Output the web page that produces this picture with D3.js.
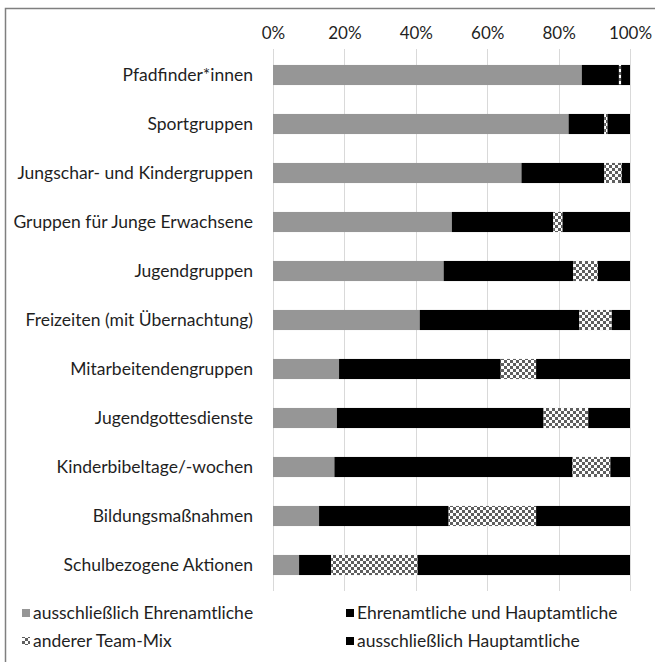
<!DOCTYPE html>
<html><head><meta charset="utf-8">
<script src="https://cdn.jsdelivr.net/npm/d3@7"></script>
<style>body{margin:0;background:#fff}svg{display:block}text{font-family:Lato,"Noto Sans",sans-serif}</style>
</head><body>
<svg id="c" width="655" height="662"></svg>
<script>
const categories = ["Pfadfinder*innen","Sportgruppen","Jungschar- und Kindergruppen","Gruppen für Junge Erwachsene","Jugendgruppen","Freizeiten (mit Übernachtung)","Mitarbeitendengruppen","Jugendgottesdienste","Kinderbibeltage/-wochen","Bildungsmaßnahmen","Schulbezogene Aktionen"];
const seriesNames = ["ausschließlich Ehrenamtliche","Ehrenamtliche und Hauptamtliche","anderer Team-Mix","ausschließlich Hauptamtliche"];
const ehrenamtlich = [86.5,82.8,69.6,50.1,47.8,41.1,18.5,17.9,17.2,12.9,7.3];
const gemischt     = [10.4,10.0,23.2,28.4,36.3,44.7,45.3,57.9,66.7,36.3,9.0];
const teamMix      = [0.6,0.9,4.9,2.6,6.9,9.1,9.9,12.5,10.6,24.5,24.2];
const hauptamtlich = [2.5,6.3,2.3,18.9,9.0,5.1,26.3,11.7,5.5,26.3,59.5];
const tickValues = [0,20,40,60,80,100];

const svg = d3.select("#c");
const defs = svg.append("defs");
const pat = defs.append("pattern").attr("id","checker").attr("patternUnits","userSpaceOnUse").attr("width",6).attr("height",6);
pat.append("rect").attr("width",6).attr("height",6).attr("fill","#fff");
pat.append("rect").attr("width",3).attr("height",3).attr("fill","#5f5f5f");
pat.append("rect").attr("x",3).attr("y",3).attr("width",3).attr("height",3).attr("fill","#5f5f5f");
const fills = ["#969696","#000000","url(#checker)","#000000"];

// border
svg.append("path").attr("d","M5.5,662V8.5H655").attr("fill","none").attr("stroke","#7f7f7f").attr("stroke-width",1.5);

const x = d3.scaleLinear().domain([0,100]).range([273,630]);
const y = d3.scaleBand().domain(categories).range([50.5,589.5]).paddingInner(0.59).paddingOuter(0.295);

// gridlines
svg.append("g").selectAll("line").data(tickValues).join("line")
  .attr("x1",d=>Math.round(x(d))+0.5).attr("x2",d=>Math.round(x(d))+0.5)
  .attr("y1",49).attr("y2",591).attr("stroke","#d9d9d9").attr("stroke-width",1);

// top axis labels
const ax = svg.append("g").attr("transform","translate(0,49)").call(d3.axisTop(x).tickValues(tickValues).tickFormat(d=>d+"%").tickSize(0).tickPadding(10));
ax.select(".domain").remove();
ax.selectAll("text").attr("font-size",17).attr("fill","#1f1f1f").style("font-family","Lato,'Noto Sans',sans-serif");

// stacked data
const rows = categories.map((c,i)=>({cat:c, s0:ehrenamtlich[i], s1:gemischt[i], s2:teamMix[i], s3:hauptamtlich[i]}));
const stack = d3.stack().keys(["s0","s1","s2","s3"])(rows);
svg.append("g").selectAll("g").data(stack).join("g").attr("fill",(d,i)=>fills[i])
  .selectAll("rect").data(d=>d).join("rect")
  .attr("x",d=>x(d[0])).attr("width",d=>x(d[1])-x(d[0]))
  .attr("y",d=>y(d.data.cat)).attr("height",y.bandwidth());

// category labels
svg.append("g").selectAll("text").data(categories).join("text")
  .attr("x",253).attr("y",d=>y(d)+y.bandwidth()/2).attr("dy","0.35em")
  .attr("text-anchor","end").attr("font-size",17.5).attr("fill","#1f1f1f").text(d=>d);

// legend
const legPos = [[22,613],[346,613],[22,641],[346,641]];
const lg = svg.append("g").selectAll("g").data(seriesNames).join("g")
  .attr("transform",(d,i)=>`translate(${legPos[i][0]},${legPos[i][1]})`);
lg.append("rect").attr("x",0).attr("y",-4).attr("width",8).attr("height",8).attr("fill",(d,i)=>fills[i]);
lg.append("text").attr("x",11).attr("y",0).attr("dy","0.35em").attr("font-size",17.5).attr("fill","#1f1f1f").text(d=>d);
</script>
</body></html>
